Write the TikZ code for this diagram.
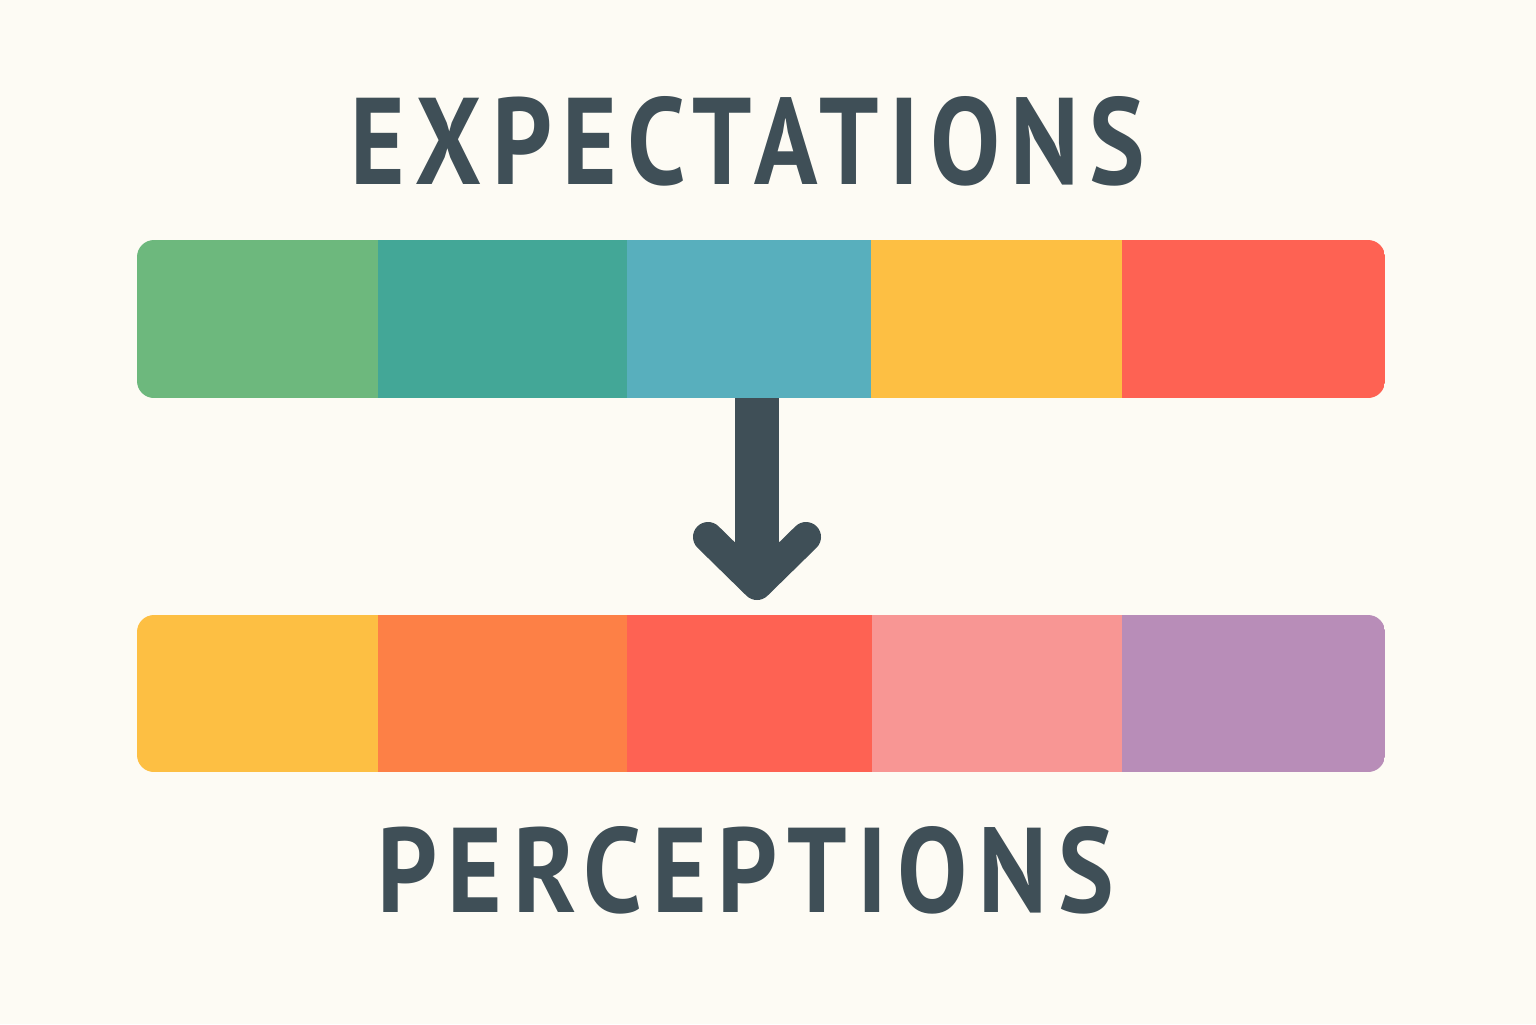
\documentclass[tikz,border=0pt]{standalone}
\usepackage{fontspec}
\setmainfont{PT Sans}
\newfontfamily\titlefont[LetterSpace=10]{PT Sans Bold}
\usepackage{graphicx}
\definecolor{bgc}{HTML}{FDFBF4}
\definecolor{ink}{HTML}{3F4F57}
\definecolor{cgreen}{HTML}{6DB87D}
\definecolor{cteal}{HTML}{43A797}
\definecolor{cblue}{HTML}{58AFBD}
\definecolor{cyellow}{HTML}{FDBF43}
\definecolor{cred}{HTML}{FE6253}
\definecolor{corange}{HTML}{FD8046}
\definecolor{cpink}{HTML}{F89694}
\definecolor{cpurple}{HTML}{B88DB8}
\tikzset{
  title/.style={inner sep=0pt, text=ink, anchor=west},
  barframe/.style={inner sep=0pt, minimum width=624pt, minimum height=79pt, rectangle},
  arrowstroke/.style={draw=ink, line width=15pt, line cap=round, line join=round}
}
\begin{document}
\begin{tikzpicture}[x=0.5pt,y=-0.5pt]
\useasboundingbox[fill=bgc] (0,0) rectangle (1536,1024);
% titles
\node[title] (exp) at (350,141) {\resizebox{397.5pt}{44pt}{\titlefont EXPECTATIONS}};
\node[title] (per) at (377,870) {\resizebox{368pt}{43pt}{\titlefont PERCEPTIONS}};
% top bar
\node[barframe] (topbar) at (761,319) {};
\begin{scope}
\clip[rounded corners=8.5pt] (137,240) rectangle (1385,398);
\fill[cgreen] (137,240) rectangle (378,398);
\fill[cteal] (378,240) rectangle (627,398);
\fill[cblue] (627,240) rectangle (871,398);
\fill[cyellow] (871,240) rectangle (1122,398);
\fill[cred] (1122,240) rectangle (1385,398);
\end{scope}
% bottom bar
\node[barframe] (botbar) at (761,693.5) {};
\begin{scope}
\clip[rounded corners=8.5pt] (137,615) rectangle (1385,772);
\fill[cyellow] (137,615) rectangle (378,772);
\fill[corange] (378,615) rectangle (627,772);
\fill[cred] (627,615) rectangle (872,772);
\fill[cpink] (872,615) rectangle (1122,772);
\fill[cpurple] (1122,615) rectangle (1385,772);
\end{scope}
% arrow
\coordinate (shafttop) at (757,398);
\coordinate (tip) at (757,585);
\coordinate (lw) at (708,537);
\coordinate (rw) at (806,537);
\fill[ink] (735,398) rectangle (779,570);
\draw[arrowstroke] (lw) -- (tip) -- (rw);
\end{tikzpicture}
\end{document}
